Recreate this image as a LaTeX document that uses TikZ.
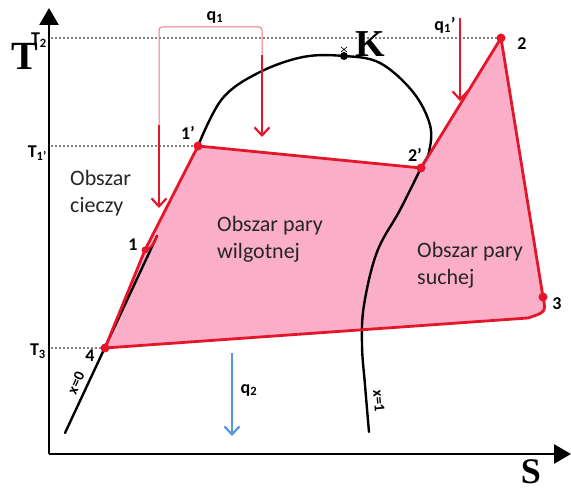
\documentclass[tikz,border=0pt]{standalone}
\usepackage{fontspec}
\setmainfont{Carlito}
\newfontfamily\timesbold{Liberation Serif}
\usetikzlibrary{arrows.meta,positioning}
\definecolor{cyclered}{RGB}{228,22,44}
\definecolor{cyclefill}{RGB}{250,174,200}
\definecolor{qblue}{RGB}{88,150,222}
\definecolor{qline}{RGB}{236,118,128}

\begin{document}
\begin{tikzpicture}[
  x=1pt, y=-1pt,
  axis/.style={line width=2.6pt, -{Triangle[length=17pt,width=19pt]}},
  level/.style={gray, line width=1.1pt, dash pattern=on 1.6pt off 2.4pt},
  sat/.style={line width=2.4pt, line cap=round},
  cyc/.style={draw=cyclered, line width=2.8pt, line join=round},
  heat/.style={line width=2.2pt, -{Straight Barb[length=8pt,width=15pt]}},
  dot/.style={circle, fill=cyclered, inner sep=0pt, minimum size=9pt},
  lbl/.style={font=\fontsize{18}{20}\selectfont\bfseries, inner sep=0pt},
  small/.style={font=\fontsize{15}{15}\selectfont\bfseries, inner sep=0pt},
  area/.style={font=\fontsize{22}{27}\selectfont, align=left, inner sep=0pt, text=black!85},
  big/.style={font=\timesbold\fontsize{38}{38}\selectfont\bfseries, inner sep=0pt}
]
\useasboundingbox (0,0) rectangle (571,494);

% points of the cycle
\coordinate (p4) at (105,348);
\coordinate (p1) at (145,250);
\coordinate (p1p) at (198,146);
\coordinate (p2p) at (421,168);
\coordinate (p2) at (501,38);
\coordinate (p3) at (543,297);
\coordinate (p3b) at (528,318);
\coordinate (x0bot) at (65,433);
\coordinate (x0top) at (157,236);
\coordinate (x1bot) at (369,432);

% area of the cycle
\fill[cyclefill] (p4) -- (p1) -- (p1p) -- (p2p) -- (p2) -- (p3)
  .. controls (546,312) .. (p3b) -- cycle;

% axes
\coordinate (O) at (49,454);
\draw[axis] (O) -- (49,8);
\draw[axis] (O) -- (571,454);
\node[big, font=\timesbold\fontsize{40}{40}\selectfont\bfseries] (T) at (25,56) {T};
\node[big, font=\timesbold\fontsize{36}{36}\selectfont\bfseries] (S) at (531,472) {S};

% levels
\draw[level] (51,38) -- (p2);
\draw[level] (51,146) -- (p1p);
\draw[level] (51,348) -- (p4);
\node[lbl, anchor=east] (T2) at (47,40) {T\textsubscript{2}};
\node[lbl, anchor=east] (T1p) at (47,153) {T\textsubscript{1’}};
\node[lbl, anchor=east] (T3) at (46,351) {T\textsubscript{3}};

% saturation curve
\draw[sat] plot[smooth, tension=0.6] coordinates {(p1p) (222,99) (258,73)
  (303,57) (344,56) (380,63) (413,92) (430,125) (429,152) (p2p) (400,210)
  (377,252) (364,305) (362,345) (365,385) (x1bot)};
\draw[sat] (x0bot) -- (x0top);
\node[circle, fill=black, inner sep=0pt, minimum size=8pt] (K) at (344,56) {};
\draw[line width=0.6pt] (341,47) -- (347,52) (347,47) -- (341,52);
\node[big] (Klbl) at (370,44) {K};
\node[small, rotate=65] (x0) at (76,383) {x=0};
\node[small, rotate=-85] (x1) at (379,401) {x=1};

% cycle
\draw[cyc] (p4) -- (p1) -- (p1p) -- (p2p) -- (p2) -- (p3)
  .. controls (546,312) .. (p3b) -- cycle;
\draw[cyc, line width=2.2pt] (p1) .. controls (152,247) .. (x0top);
\foreach \p in {p1p,p2p,p2,p3,p4}
  \node[dot] at (\p) {};
\node[dot, minimum size=7pt] at (p1) {};
\node[lbl] (l1) at (133,245) {1};
\node[lbl] (l1p) at (188,133) {1’};
\node[lbl] (l2p) at (415,155) {2’};
\node[lbl] (l2) at (522,44) {2};
\node[lbl] (l3) at (557,304) {3};
\node[lbl] (l4) at (90,356) {4};

% heat
\coordinate (qa) at (159,125);
\coordinate (qb) at (262,55);
\draw[qline, line width=1pt, rounded corners=3pt] (qa) -- (159,27) -- (262,27) -- (qb);
\draw[heat, cyclered] (qa) -- (159,208);
\draw[heat, cyclered] (qb) -- (262,137);
\draw[heat, cyclered] (460,18) -- (460,101);
\draw[heat, qblue] (232,353) -- (232,436);
\node[lbl] (q1) at (215,17) {q\textsubscript{1}};
\node[lbl] (q1p) at (445,25) {q\textsubscript{1}’};
\node[lbl] (q2) at (249,390) {q\textsubscript{2}};

% regions
\node[area, anchor=north west] (liq) at (70,170) {Obszar\\cieczy};
\node[area, anchor=north west] (wet) at (217,216) {Obszar pary\\wilgotnej};
\node[area, anchor=north west] (dry) at (417,242) {Obszar pary\\suchej};
\end{tikzpicture}
\end{document}
